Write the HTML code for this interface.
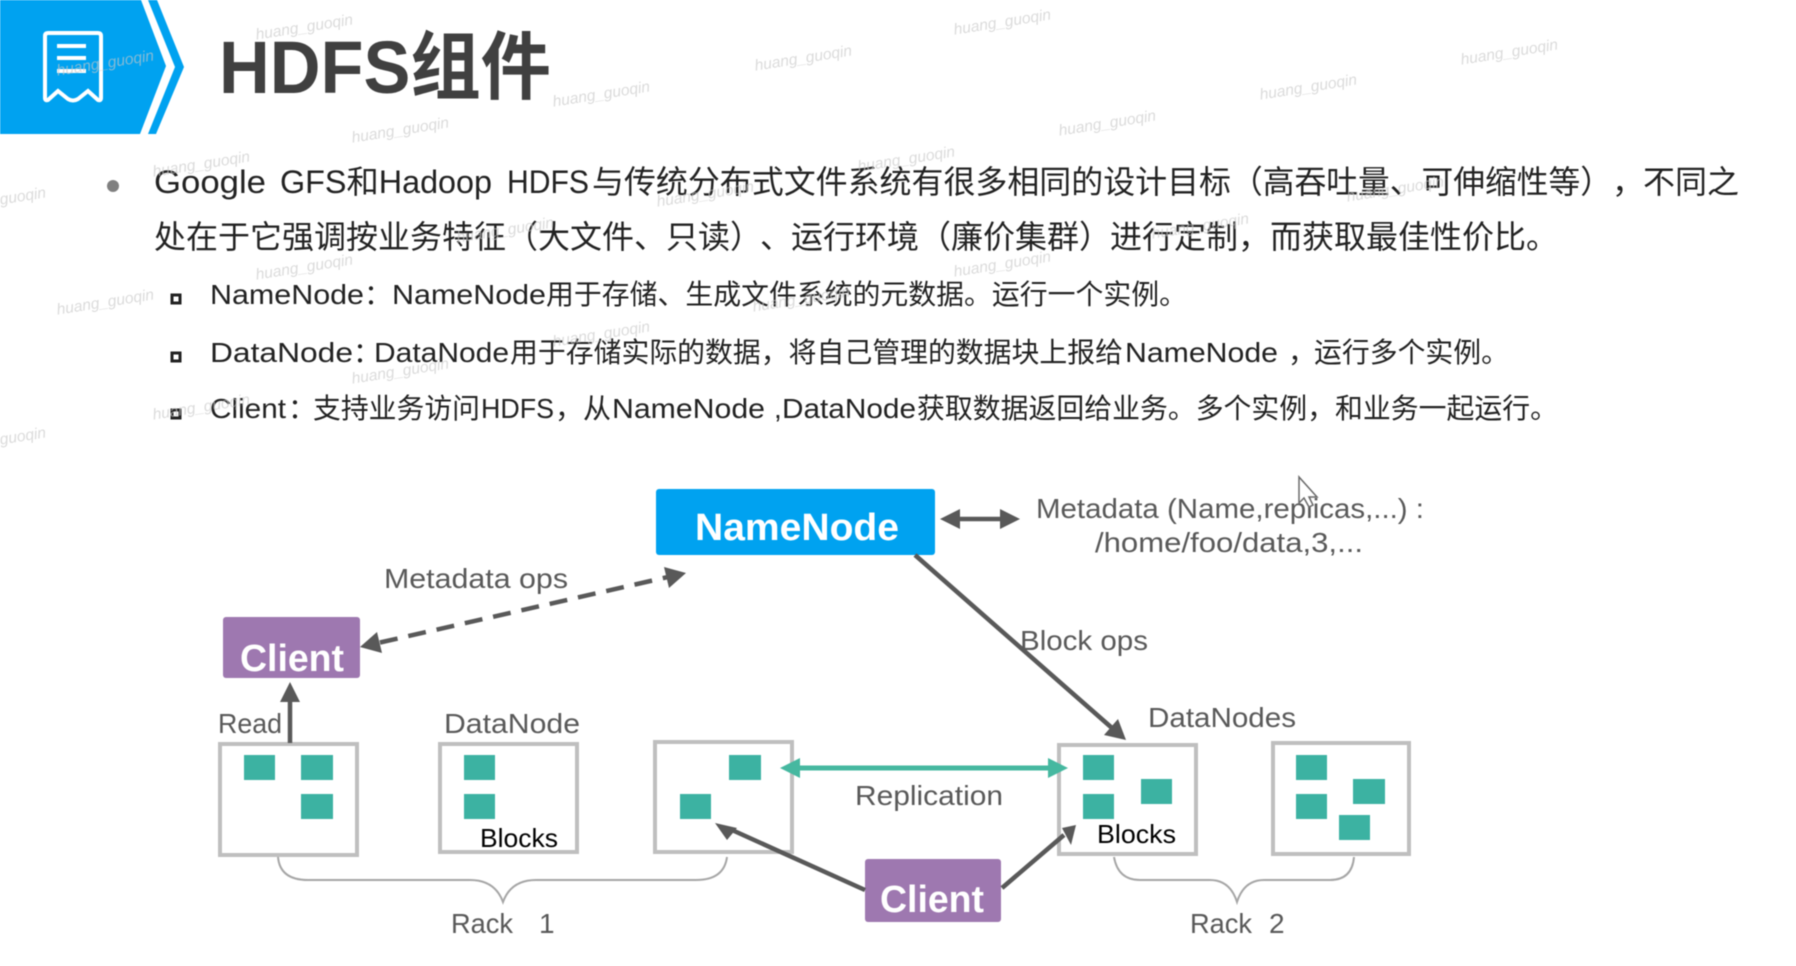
<!DOCTYPE html>
<html><head><meta charset="utf-8"><style>
html,body{margin:0;padding:0;background:#fff;width:1796px;height:966px;overflow:hidden}
svg{display:block;filter:blur(.4px)}
text{font-family:"Liberation Sans","Noto Sans CJK SC",sans-serif}
.b{font-size:32px;fill:#222}.s{font-size:28px;fill:#222}
.l{font-size:28px;fill:#595959}.k{font-size:26px;fill:#000}
.w{font-size:15.5px;font-style:italic;fill:#c8c8c8;fill-opacity:.65;text-anchor:middle}
.n{font-weight:bold;fill:#fff}
</style></head><body>
<svg width="1796" height="966" viewBox="0 0 1796 966" xmlns="http://www.w3.org/2000/svg">
<polygon points="0,0 141,0 166,66 140,134 0,134" fill="#00a2f0"/>
<polygon points="148,0 157,0 184,67 156,134 148,134 175,67" fill="#00a2f0"/>
<path d="M45 36Q45 33 48 33H98Q101 33 101 36V98Q101 101 98 100L88 91L78 99Q73 102 68 99L58 91L48 100Q45 101 45 98Z" fill="none" stroke="#fff" stroke-width="4"/>
<path d="M57 46H86M57 58H86M57 71H86" stroke="#fff" stroke-width="4"/>
<text x="219" y="93" font-size="74" font-weight="bold" fill="#404040" textLength="332" lengthAdjust="spacingAndGlyphs">HDFS组件</text>
<circle cx="113" cy="186" r="6" fill="#808080"/>

<text class="b" x="154" y="193" textLength="112" lengthAdjust="spacingAndGlyphs">Google</text>
<text class="b" x="280" y="193" textLength="212" lengthAdjust="spacingAndGlyphs">GFS和Hadoop</text>
<text class="b" x="507" y="193" textLength="82" lengthAdjust="spacingAndGlyphs">HDFS</text>
<text class="b" x="592" y="193" textLength="639" lengthAdjust="spacingAndGlyphs">与传统分布式文件系统有很多相同的设计目标</text>
<text class="b" x="1231" y="193" textLength="381" lengthAdjust="spacingAndGlyphs">（高吞吐量、可伸缩性等）</text>
<text class="b" x="1612" y="193">，</text>
<text class="b" x="1643" y="193" textLength="96" lengthAdjust="spacingAndGlyphs">不同之</text>

<text class="b" x="154" y="248" textLength="608" lengthAdjust="spacingAndGlyphs">处在于它强调按业务特征（大文件、只读）</text>
<text class="b" x="760" y="248">、</text>
<text class="b" x="791" y="248" textLength="320" lengthAdjust="spacingAndGlyphs">运行环境（廉价集群）</text>
<text class="b" x="1110" y="248" textLength="448" lengthAdjust="spacingAndGlyphs">进行定制，而获取最佳性价比。</text>

<rect x="172" y="295" width="8" height="8" fill="none" stroke="#222" stroke-width="3"/>
<rect x="172" y="353" width="8" height="8" fill="none" stroke="#222" stroke-width="3"/>
<rect x="172" y="410" width="8" height="8" fill="none" stroke="#222" stroke-width="3"/>

<text class="s" x="210" y="304" textLength="154" lengthAdjust="spacingAndGlyphs">NameNode</text>
<text class="s" x="364" y="304">：</text>
<text class="s" x="392" y="304" textLength="154" lengthAdjust="spacingAndGlyphs">NameNode</text>
<text class="s" x="546" y="304" textLength="641" lengthAdjust="spacingAndGlyphs">用于存储、生成文件系统的元数据。运行一个实例。</text>

<text class="s" x="210" y="362" textLength="143" lengthAdjust="spacingAndGlyphs">DataNode</text>
<text class="s" x="353" y="362">：</text>
<text class="s" x="374" y="362" textLength="135" lengthAdjust="spacingAndGlyphs">DataNode</text>
<text class="s" x="510" y="362" textLength="613" lengthAdjust="spacingAndGlyphs">用于存储实际的数据，将自己管理的数据块上报给</text>
<text class="s" x="1125" y="362" textLength="153" lengthAdjust="spacingAndGlyphs">NameNode</text>
<text class="s" x="1288" y="362">，</text>
<text class="s" x="1314" y="362" textLength="195" lengthAdjust="spacingAndGlyphs">运行多个实例。</text>

<text class="s" x="210" y="418" textLength="76" lengthAdjust="spacingAndGlyphs">Client</text>
<text class="s" x="288" y="418">：</text>
<text class="s" x="313" y="418" textLength="167" lengthAdjust="spacingAndGlyphs">支持业务访问</text>
<text class="s" x="481" y="418" textLength="73" lengthAdjust="spacingAndGlyphs">HDFS</text>
<text class="s" x="555" y="418">，</text>
<text class="s" x="583" y="418">从</text>
<text class="s" x="612" y="418" textLength="153" lengthAdjust="spacingAndGlyphs">NameNode</text>
<text class="s" x="774" y="418">,</text>
<text class="s" x="782" y="418" textLength="134" lengthAdjust="spacingAndGlyphs">DataNode</text>
<text class="s" x="917" y="418" textLength="641" lengthAdjust="spacingAndGlyphs">获取数据返回给业务。多个实例，和业务一起运行。</text>

<rect x="656" y="489" width="279" height="66" rx="3" fill="#00a2f0"/>
<text class="n" x="695" y="540" font-size="38" textLength="204" lengthAdjust="spacingAndGlyphs">NameNode</text>
<rect x="223" y="617" width="137" height="61" rx="3" fill="#9e78b0"/>
<text class="n" x="240" y="671" font-size="38" textLength="104" lengthAdjust="spacingAndGlyphs">Client</text>
<rect x="865" y="859" width="136" height="63" rx="3" fill="#9e78b0"/>
<text class="n" x="880" y="912" font-size="38" textLength="104" lengthAdjust="spacingAndGlyphs">Client</text>

<g fill="#fff" stroke="#bfbfbf" stroke-width="4">
<rect x="220" y="744" width="137" height="111"/>
<rect x="440" y="744" width="137" height="108"/>
<rect x="655" y="742" width="137" height="110"/>
<rect x="1059" y="745" width="137" height="109"/>
<rect x="1273" y="743" width="136" height="111"/>
</g>
<g fill="#3cb2a2">
<rect x="244" y="755" width="31" height="25"/><rect x="301" y="755" width="32" height="25"/><rect x="301" y="794" width="32" height="25"/>
<rect x="464" y="755" width="31" height="25"/><rect x="464" y="794" width="31" height="25"/>
<rect x="729" y="755" width="32" height="25"/><rect x="680" y="794" width="31" height="25"/>
<rect x="1083" y="755" width="31" height="25"/><rect x="1083" y="794" width="31" height="25"/><rect x="1141" y="779" width="31" height="25"/>
<rect x="1296" y="755" width="31" height="25"/><rect x="1296" y="794" width="31" height="25"/><rect x="1353" y="779" width="32" height="25"/><rect x="1339" y="815" width="31" height="25"/>
</g>

<g stroke="#595959" stroke-width="4.5" fill="none">
<path d="M380 642.5L668 577" stroke-dasharray="18 11"/>
<path d="M290 743V700"/>
<path d="M960 519H1000"/>
<path d="M915 555L1112 728"/>
<path d="M865 890L732 830"/>
<path d="M1002 888L1064 835"/>
</g>
<g fill="#595959">
<polygon points="360,647 382,653 377,632"/>
<polygon points="686,573 669,588 664,567"/>
<polygon points="290,682 280,702 300,702"/>
<polygon points="940,519 960,509 960,529"/>
<polygon points="1020,519 1000,509 1000,529"/>
<polygon points="1126,740 1104,735 1118,719"/>
<polygon points="715,823 727,840 737,828"/>
<polygon points="1076,825 1062,828 1071,845"/>
</g>
<path d="M798 768H1050" stroke="#46b8a0" stroke-width="5"/>
<polygon points="780,768 800,758 800,778" fill="#46b8a0"/>
<polygon points="1068,768 1048,758 1048,778" fill="#46b8a0"/>

<g fill="none" stroke="#a6a6a6" stroke-width="2">
<path d="M278 857Q280 880 308 880H470Q495 880 503 902Q511 880 536 880H696Q724 880 727 857"/>
<path d="M1114 857Q1118 880 1140 880H1210Q1230 880 1237 902Q1244 880 1264 880H1330Q1352 880 1354 857"/>
</g>

<text class="l" x="384" y="588" textLength="184" lengthAdjust="spacingAndGlyphs">Metadata ops</text>
<text class="l" x="218" y="733" textLength="64" lengthAdjust="spacingAndGlyphs">Read</text>
<text class="l" x="444" y="733" textLength="136" lengthAdjust="spacingAndGlyphs">DataNode</text>
<text class="l" x="1036" y="518" textLength="388" lengthAdjust="spacingAndGlyphs">Metadata (Name,replicas,...) :</text>
<text class="l" x="1095" y="552" textLength="268" lengthAdjust="spacingAndGlyphs">/home/foo/data,3,...</text>
<text class="l" x="1020" y="650" textLength="128" lengthAdjust="spacingAndGlyphs">Block ops</text>
<text class="l" x="1148" y="727" textLength="148" lengthAdjust="spacingAndGlyphs">DataNodes</text>
<text class="l" x="855" y="805" textLength="148" lengthAdjust="spacingAndGlyphs">Replication</text>
<text class="k" x="480" y="847" textLength="78" lengthAdjust="spacingAndGlyphs">Blocks</text>
<text class="k" x="1097" y="843" textLength="79" lengthAdjust="spacingAndGlyphs">Blocks</text>
<text class="l" x="451" y="933" textLength="62" lengthAdjust="spacingAndGlyphs">Rack</text>
<text class="l" x="539" y="933">1</text>
<text class="l" x="1190" y="933" textLength="62" lengthAdjust="spacingAndGlyphs">Rack</text>
<text class="l" x="1269" y="933">2</text>

<polygon points="1299,477 1299,503 1304,498 1309,507 1313,505 1309,497 1317,497" fill="#fff" stroke="#6a6a6a" stroke-width="1.5"/>

<g transform="translate(1 4)">
<text class="w" transform="translate(1002 23) rotate(-9)">huang_guoqin</text>
<text class="w" transform="translate(803 59) rotate(-9)">huang_guoqin</text>
<text class="w" transform="translate(601 95) rotate(-9)">huang_guoqin</text>
<text class="w" transform="translate(400 131) rotate(-9)">huang_guoqin</text>
<text class="w" transform="translate(201 165) rotate(-9)">huang_guoqin</text>
<text class="w" transform="translate(-3 201) rotate(-9)">huang_guoqin</text>
<text class="w" transform="translate(304 28) rotate(-9)">huang_guoqin</text>
<text class="w" transform="translate(105 64) rotate(-9)">huang_guoqin</text>
<text class="w" transform="translate(1509 53) rotate(-9)">huang_guoqin</text>
<text class="w" transform="translate(1308 88) rotate(-9)">huang_guoqin</text>
<text class="w" transform="translate(1107 124) rotate(-9)">huang_guoqin</text>
<text class="w" transform="translate(906 160) rotate(-9)">huang_guoqin</text>
<text class="w" transform="translate(705 195) rotate(-9)">huang_guoqin</text>
<text class="w" transform="translate(505 231) rotate(-9)">huang_guoqin</text>
<text class="w" transform="translate(304 268) rotate(-9)">huang_guoqin</text>
<text class="w" transform="translate(105 303) rotate(-9)">huang_guoqin</text>
<text class="w" transform="translate(1395 190) rotate(-9)">huang_guoqin</text>
<text class="w" transform="translate(1200 227) rotate(-9)">huang_guoqin</text>
<text class="w" transform="translate(1002 265) rotate(-9)">huang_guoqin</text>
<text class="w" transform="translate(801 300) rotate(-9)">huang_guoqin</text>
<text class="w" transform="translate(601 335) rotate(-9)">huang_guoqin</text>
<text class="w" transform="translate(400 372) rotate(-9)">huang_guoqin</text>
<text class="w" transform="translate(201 408) rotate(-9)">huang_guoqin</text>
<text class="w" transform="translate(-3 441) rotate(-9)">huang_guoqin</text>
</g>
</svg>
</body></html>
